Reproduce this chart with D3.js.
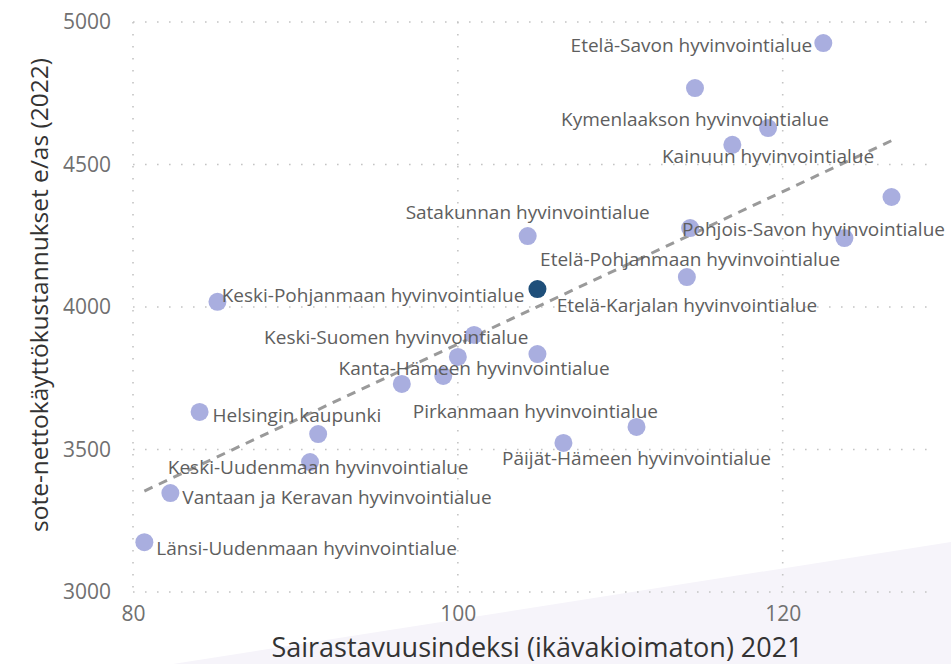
<!DOCTYPE html>
<html>
<head>
<meta charset="utf-8">
<script src="https://cdnjs.cloudflare.com/ajax/libs/d3/7.8.5/d3.min.js"></script>
<style>
body { margin: 0; background: #fff; }
text { font-family: "Open Sans", "Noto Sans", sans-serif; }
</style>
</head>
<body>
<div id="chart"></div>
<script>
let width = 951;
let height = 664;

// data: region names ("" = no label shown), sickness index 2021, cost per capita 2022
let regions = [
	"Etelä-Savon hyvinvointialue", "Kymenlaakson hyvinvointialue", "Kainuun hyvinvointialue", "",
	"Pohjois-Savon hyvinvointialue", "Etelä-Pohjanmaan hyvinvointialue", "", "Satakunnan hyvinvointialue",
	"Etelä-Karjalan hyvinvointialue", "Keski-Pohjanmaan hyvinvointialue", "", "Kanta-Hämeen hyvinvointialue",
	"", "Keski-Suomen hyvinvointialue", "", "Pirkanmaan hyvinvointialue",
	"Helsingin kaupunki", "Keski-Uudenmaan hyvinvointialue", "Päijät-Hämeen hyvinvointialue", "",
	"", "Vantaan ja Keravan hyvinvointialue", "Länsi-Uudenmaan hyvinvointialue"
];
let sickIndex = [
	122.5, 114.6, 119.1, 116.9,
	126.7, 114.3, 123.8, 104.3,
	114.1, 104.9, 85.2, 101.0,
	100.0, 104.9, 99.1, 96.55,
	84.1, 91.4, 111.0, 106.5,
	90.9, 82.3, 80.7
];
let costPerCapita = [
	4926, 4768, 4628, 4569,
	4386, 4277, 4242, 4249,
	4105, 4063, 4018, 3902,
	3825, 3835, 3758, 3730,
	3632, 3554, 3579, 3523,
	3456, 3347, 3175
];
let highlighted = "Keski-Pohjanmaan hyvinvointialue";
let xTicks = [80, 100, 120];
let yTicks = [3000, 3500, 4000, 4500, 5000];

// where each label sits relative to its dot
let labelPlace = {
	"Etelä-Savon hyvinvointialue": { anchor: "end", dx: -11, dy: 2 },
	"Kymenlaakson hyvinvointialue": { anchor: "middle", dx: 0, dy: 31 },
	"Kainuun hyvinvointialue": { anchor: "middle", dx: 0, dy: 28 },
	"Pohjois-Savon hyvinvointialue": { anchor: "middle", dx: 0, dy: 32 },
	"Etelä-Pohjanmaan hyvinvointialue": { anchor: "middle", dx: 0, dy: 31 },
	"Satakunnan hyvinvointialue": { anchor: "middle", dx: 0, dy: -24 },
	"Etelä-Karjalan hyvinvointialue": { anchor: "middle", dx: 0, dy: 28 },
	"Keski-Pohjanmaan hyvinvointialue": { anchor: "end", dx: -13, dy: 6 },
	"Kanta-Hämeen hyvinvointialue": { anchor: "middle", dx: 0, dy: 33 },
	"Keski-Suomen hyvinvointialue": { anchor: "end", dx: -9, dy: -17 },
	"Pirkanmaan hyvinvointialue": { anchor: "start", dx: 11, dy: 27 },
	"Helsingin kaupunki": { anchor: "start", dx: 13, dy: 3 },
	"Keski-Uudenmaan hyvinvointialue": { anchor: "middle", dx: 0, dy: 33 },
	"Päijät-Hämeen hyvinvointialue": { anchor: "middle", dx: 0, dy: 31 },
	"Vantaan ja Keravan hyvinvointialue": { anchor: "start", dx: 12, dy: 4 },
	"Länsi-Uudenmaan hyvinvointialue": { anchor: "start", dx: 12, dy: 6 }
};

let margin = { top: 22, right: 14, bottom: 72, left: 133 };

let svg = d3.select("#chart").append("svg")
	.attr("width", width)
	.attr("height", height);

// faint background shape in the lower right corner
svg.append("path")
	.attr("d", "M173," + height + "L" + width + ",542L" + width + "," + height + "Z")
	.style("fill", "#f6f4fa");

let x = d3.scaleLinear()
	.domain([80, 129.5])
	.range([margin.left, width - margin.right]);
let y = d3.scaleLinear()
	.domain([3000, 5000])
	.range([height - margin.bottom, margin.top]);

// dotted grid
let grid = svg.append("g").attr("class", "grid");
grid.selectAll("line.h").data(yTicks).enter().append("line")
	.attr("x1", margin.left).attr("x2", width - margin.right)
	.attr("y1", d => y(d)).attr("y2", d => y(d))
	.style("stroke", "#c4c4c4").style("stroke-width", 1.6)
	.style("stroke-dasharray", "1.6,10.4");
grid.selectAll("line.v").data(xTicks).enter().append("line")
	.attr("x1", d => x(d)).attr("x2", d => x(d))
	.attr("y1", margin.top).attr("y2", height - margin.bottom)
	.style("stroke", "#c4c4c4").style("stroke-width", 1.6)
	.style("stroke-dasharray", "1.6,10.4");

// axes, lines hidden, only the labels
let xAxis = svg.append("g")
	.attr("transform", "translate(0," + (height - margin.bottom) + ")")
	.call(d3.axisBottom(x).tickValues(xTicks).tickSize(0).tickPadding(14));
let yAxis = svg.append("g")
	.attr("transform", "translate(" + margin.left + ",0)")
	.call(d3.axisLeft(y).tickValues(yTicks).tickSize(0).tickPadding(22).tickFormat(d3.format("d")));
[xAxis, yAxis].forEach(function(a){
	a.select(".domain").remove();
	a.selectAll("text")
		.style("font-family", "'Open Sans', sans-serif")
		.style("font-size", "21px")
		.style("fill", "#707070");
});

svg.append("text")
	.attr("transform", "translate(38,295) rotate(-90)")
	.attr("text-anchor", "middle")
	.attr("dominant-baseline", "central")
	.style("font-size", "24.5px")
	.style("fill", "#333")
	.text("sote-nettokäyttökustannukset e/as (2022)");

svg.append("text")
	.attr("x", 537)
	.attr("y", 657)
	.attr("text-anchor", "middle")
	.style("font-size", "27px")
	.style("fill", "#333")
	.text("Sairastavuusindeksi (ikävakioimaton) 2021");

let points = regions.map(function(name, i){
	return { name: name, sx: sickIndex[i], cost: costPerCapita[i] };
});

// least squares trend line over the data
let mx = d3.mean(points, d => d.sx);
let my = d3.mean(points, d => d.cost);
let sxy = d3.sum(points, d => (d.sx - mx) * (d.cost - my));
let sxx = d3.sum(points, d => (d.sx - mx) * (d.sx - mx));
let slope = sxy / sxx;
let icpt = my - slope * mx;
let xExt = d3.extent(points, d => d.sx);

svg.append("line")
	.attr("x1", x(xExt[0])).attr("y1", y(icpt + slope * xExt[0]))
	.attr("x2", x(xExt[1])).attr("y2", y(icpt + slope * xExt[1]))
	.style("stroke", "#9a9a9a")
	.style("stroke-width", 3)
	.style("stroke-dasharray", "9,7");

svg.append("g").selectAll("circle")
	.data(points)
	.enter().append("circle")
	.attr("cx", d => x(d.sx))
	.attr("cy", d => y(d.cost))
	.attr("r", 9)
	.style("fill", d => d.name == highlighted ? "#1f4f7a" : "#a9aedf");

let plotRight = width - 6;
svg.append("g").selectAll("text")
	.data(points.filter(d => d.name != ""))
	.enter().append("text")
	.attr("x", d => x(d.sx) + labelPlace[d.name].dx)
	.attr("y", d => y(d.cost) + labelPlace[d.name].dy)
	.attr("text-anchor", d => labelPlace[d.name].anchor)
	.attr("dominant-baseline", "central")
	.style("font-size", "19px")
	.style("fill", "#5e5e5e")
	.text(d => d.name)
	.each(function(){
		// keep labels inside the plot on the right
		let b = this.getBBox();
		if (b.x + b.width > plotRight) {
			d3.select(this).attr("x", +d3.select(this).attr("x") - (b.x + b.width - plotRight));
		}
	});
</script>
</body>
</html>
